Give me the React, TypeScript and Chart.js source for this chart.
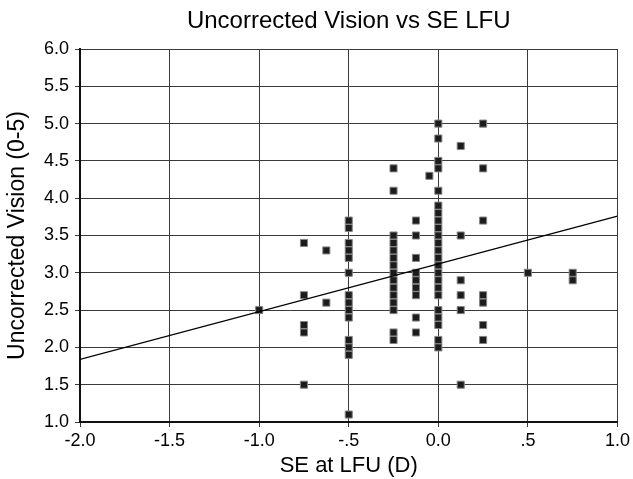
import React, { useEffect, useRef } from "react";
import { Chart, registerables } from "chart.js";

Chart.register(...registerables);

const FONT = "'Liberation Sans', Arial, Helvetica, sans-serif";

const chartTitle = "Uncorrected Vision vs SE LFU";
const xAxisTitle = "SE at LFU (D)";
const yAxisTitle = "Uncorrected Vision (0-5)";

// SE at last follow-up (D) for each column of points
const seValues = [-1.0, -0.75, -0.625, -0.5, -0.25, -0.125, -0.05, 0, 0.125, 0.25, 0.5, 0.75];
// Uncorrected vision values observed at each SE value
const visionAtSe: number[][] = [
  [2.5],
  [3.4, 2.7, 2.3, 2.2, 1.5],
  [3.3, 2.6],
  [3.7, 3.6, 3.4, 3.3, 3.2, 3.0, 2.7, 2.6, 2.5, 2.4, 2.1, 2.0, 1.9, 1.1],
  [4.4, 4.1, 3.5, 3.4, 3.3, 3.2, 3.1, 3.0, 2.9, 2.8, 2.7, 2.6, 2.5, 2.2, 2.1],
  [3.7, 3.5, 3.2, 3.0, 2.9, 2.8, 2.7, 2.4, 2.2],
  [4.3],
  [5.0, 4.8, 4.5, 4.4, 4.1, 3.9, 3.8, 3.7, 3.6, 3.5, 3.4, 3.3, 3.2, 3.1, 3.0, 2.9, 2.8, 2.7, 2.5, 2.4, 2.3, 2.1, 2.0],
  [4.7, 3.5, 2.9, 2.7, 2.5, 1.5],
  [5.0, 4.4, 3.7, 2.7, 2.6, 2.3, 2.1],
  [3.0],
  [3.0, 2.9],
];

// Linear trend line end points
const trendX = [-2.0, 1.0];
const trendY = [1.84, 3.76];

const xTickLabels: Record<string, string> = {
  "-2": "-2.0",
  "-1.5": "-1.5",
  "-1": "-1.0",
  "-0.5": "-.5",
  "0": "0.0",
  "0.5": ".5",
  "1": "1.0",
};

export default function App() {
  const ref = useRef<HTMLCanvasElement>(null);

  useEffect(() => {
    document.body.style.margin = "0";
    const points: { x: number; y: number }[] = [];
    seValues.forEach((se, i) => {
      visionAtSe[i].forEach((v) => points.push({ x: se, y: v }));
    });
    const trend = trendX.map((x, i) => ({ x, y: trendY[i] }));

    const gridColor = "#3a3a3a";
    const chart = new Chart(ref.current as HTMLCanvasElement, {
      type: "scatter",
      data: {
        datasets: [
          {
            type: "scatter",
            data: points,
            pointStyle: "rect",
            pointRadius: 5,
            pointHoverRadius: 5,
            backgroundColor: "#1c1c1c",
            borderColor: "#858585",
            borderWidth: 1,
            order: 1,
          },
          {
            type: "line",
            data: trend,
            borderColor: "#000000",
            borderWidth: 1.2,
            pointRadius: 0,
            fill: false,
            order: 0,
          } as any,
        ],
      },
      options: {
        responsive: false,
        animation: false,
        events: [],
        layout: { padding: { left: 0, right: 15, top: 0, bottom: 0 } },
        plugins: {
          legend: { display: false },
          tooltip: { enabled: false },
          title: {
            display: true,
            fullSize: false,
            text: chartTitle,
            color: "#000",
            font: { family: FONT, size: 24, weight: "normal" },
            padding: { top: 6.6, bottom: 13.6 },
          },
        },
        scales: {
          x: {
            type: "linear",
            position: "bottom",
            min: -2,
            max: 1,
            afterFit: (scale: any) => {
              scale.height = 57;
            },
            ticks: {
              stepSize: 0.5,
              autoSkip: false,
              maxRotation: 0,
              color: "#000",
              padding: 3,
              font: { family: FONT, size: 18 },
              callback: (v: any) => xTickLabels[String(v)] ?? Number(v).toFixed(1),
            },
            grid: { color: gridColor, lineWidth: 1, tickLength: 5, drawTicks: true },
            border: { color: "#111", width: 2 },
            title: {
              display: true,
              text: xAxisTitle,
              color: "#000",
              font: { family: FONT, size: 22 },
              padding: { top: 0, bottom: 0 },
            },
          },
          y: {
            type: "linear",
            min: 1,
            max: 6,
            afterFit: (scale: any) => {
              scale.width = 80;
            },
            ticks: {
              stepSize: 0.5,
              autoSkip: false,
              color: "#000",
              padding: 6,
              font: { family: FONT, size: 18 },
              callback: (v: any) => Number(v).toFixed(1),
            },
            grid: { color: gridColor, lineWidth: 1, tickLength: 5, drawTicks: true },
            border: { color: "#111", width: 2 },
            title: {
              display: true,
              text: yAxisTitle,
              color: "#000",
              font: { family: FONT, size: 23 },
              padding: { top: 4, bottom: 0 },
            },
          },
        },
      },
    });
    return () => chart.destroy();
  }, []);

  return (
    <div style={{ position: "absolute", left: 0, top: 0, width: 633, height: 479 }}>
      <canvas ref={ref} width={633} height={479} style={{ display: "block" }} />
    </div>
  );
}
